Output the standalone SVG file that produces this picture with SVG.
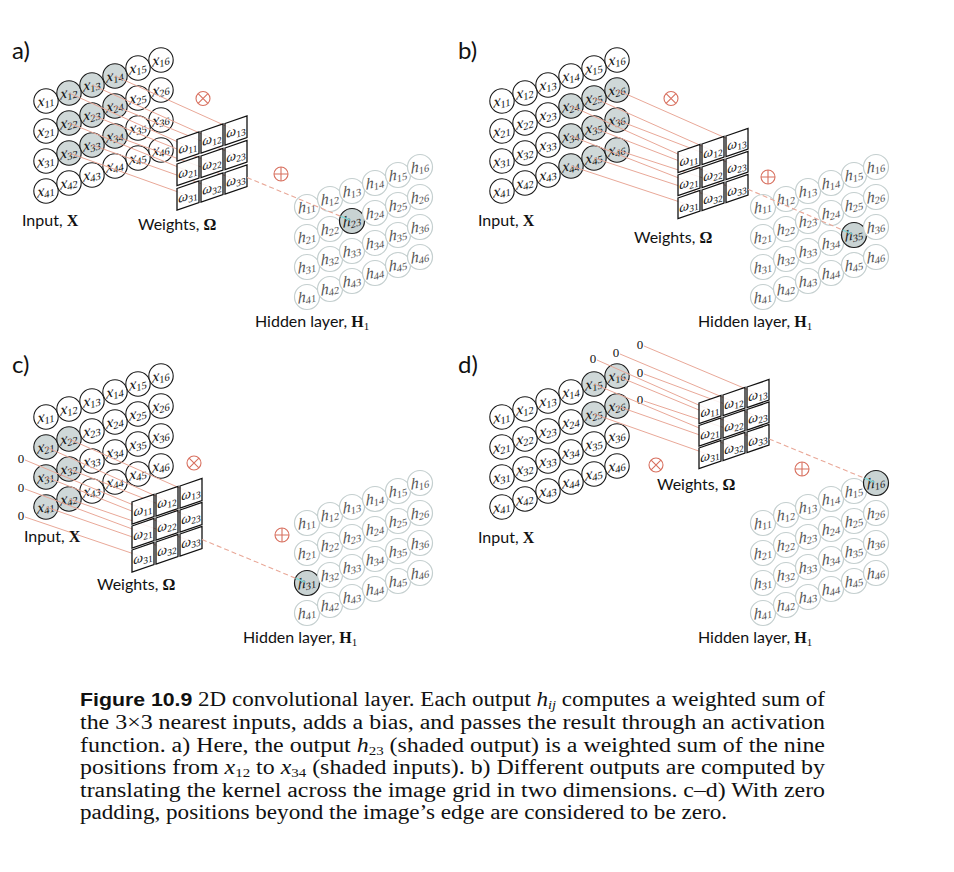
<svg xmlns="http://www.w3.org/2000/svg" width="954" height="872" viewBox="0 0 954 872">
<defs>
<style>
.in circle{fill:#fff;stroke:#1a1a1a;stroke-width:1.1}
.in.s circle{fill:#cfd8d8}
.hd circle{fill:#fff;stroke:#c4cfcf;stroke-width:1.2}
.hd text{fill:#555}
.hd.s circle{fill:#c9d3d3;stroke:#1a1a1a}
.hd.s text{fill:#222}
.m{font-family:"Liberation Serif",serif;font-style:italic;font-size:16px;text-anchor:middle;fill:#111}
.sb{font-size:10.5px;font-style:normal}
.w .m{font-size:14px}
.w .sb{font-size:9.5px}
.w path{fill:#fff;fill-opacity:.86;stroke:#111;stroke-width:1.3}
.ln{stroke:#e9a898;stroke-width:1;fill:none}
.dl{stroke:#e9a898;stroke-width:1.1;stroke-dasharray:5 3;fill:none}
.tl{stroke:#7fd6d6;stroke-width:1.3}
.op circle,.op path{fill:none;stroke:#d8705f;stroke-width:1.1}
.z{font-family:"Liberation Serif",serif;font-size:13px;text-anchor:middle;fill:#111}
.lb{font-family:Lato,"Open Sans",sans-serif;font-size:16px;fill:#111}
.bm{font-family:"Liberation Serif",serif;font-weight:bold}
.pl{font-family:Lato,"Open Sans",sans-serif;font-size:24px;fill:#111}
.cap{font-family:"Liberation Serif",serif;font-size:20px;fill:#111}
.capb{font-family:"Liberation Sans",Arial,sans-serif;font-weight:bold;font-size:18.5px}
.ci{font-style:italic}
.cs{font-size:12.5px}
</style>
</defs>
<rect width="954" height="872" fill="#fff"/>

<!-- ================= PANEL A ================= -->
<g id="panel-a">
<text class="pl" x="12" y="59">a)</text>
<g id="a-inputs">
<g id="a-x11" class="in" transform="translate(46,101)"><circle r="12.2"/><text class="m" transform="skewY(-18)" y="4">x<tspan class="sb" dy="3">11</tspan></text></g>
<g id="a-x12" class="in s" transform="translate(69,93)"><circle r="12.2"/><text class="m" transform="skewY(-18)" y="4">x<tspan class="sb" dy="3">12</tspan></text></g>
<g id="a-x13" class="in s" transform="translate(92,85)"><circle r="12.2"/><text class="m" transform="skewY(-18)" y="4">x<tspan class="sb" dy="3">13</tspan></text></g>
<g id="a-x14" class="in s" transform="translate(115,76)"><circle r="12.2"/><text class="m" transform="skewY(-18)" y="4">x<tspan class="sb" dy="3">14</tspan></text></g>
<g id="a-x15" class="in" transform="translate(138,68)"><circle r="12.2"/><text class="m" transform="skewY(-18)" y="4">x<tspan class="sb" dy="3">15</tspan></text></g>
<g id="a-x16" class="in" transform="translate(161,60)"><circle r="12.2"/><text class="m" transform="skewY(-18)" y="4">x<tspan class="sb" dy="3">16</tspan></text></g>
<g id="a-x21" class="in" transform="translate(46,131)"><circle r="12.2"/><text class="m" transform="skewY(-18)" y="4">x<tspan class="sb" dy="3">21</tspan></text></g>
<g id="a-x22" class="in s" transform="translate(69,123)"><circle r="12.2"/><text class="m" transform="skewY(-18)" y="4">x<tspan class="sb" dy="3">22</tspan></text></g>
<g id="a-x23" class="in s" transform="translate(92,115)"><circle r="12.2"/><text class="m" transform="skewY(-18)" y="4">x<tspan class="sb" dy="3">23</tspan></text></g>
<g id="a-x24" class="in s" transform="translate(115,106)"><circle r="12.2"/><text class="m" transform="skewY(-18)" y="4">x<tspan class="sb" dy="3">24</tspan></text></g>
<g id="a-x25" class="in" transform="translate(138,98)"><circle r="12.2"/><text class="m" transform="skewY(-18)" y="4">x<tspan class="sb" dy="3">25</tspan></text></g>
<g id="a-x26" class="in" transform="translate(161,90)"><circle r="12.2"/><text class="m" transform="skewY(-18)" y="4">x<tspan class="sb" dy="3">26</tspan></text></g>
<g id="a-x31" class="in" transform="translate(46,161)"><circle r="12.2"/><text class="m" transform="skewY(-18)" y="4">x<tspan class="sb" dy="3">31</tspan></text></g>
<g id="a-x32" class="in s" transform="translate(69,153)"><circle r="12.2"/><text class="m" transform="skewY(-18)" y="4">x<tspan class="sb" dy="3">32</tspan></text></g>
<g id="a-x33" class="in s" transform="translate(92,145)"><circle r="12.2"/><text class="m" transform="skewY(-18)" y="4">x<tspan class="sb" dy="3">33</tspan></text></g>
<g id="a-x34" class="in s" transform="translate(115,136)"><circle r="12.2"/><text class="m" transform="skewY(-18)" y="4">x<tspan class="sb" dy="3">34</tspan></text></g>
<g id="a-x35" class="in" transform="translate(138,128)"><circle r="12.2"/><text class="m" transform="skewY(-18)" y="4">x<tspan class="sb" dy="3">35</tspan></text></g>
<g id="a-x36" class="in" transform="translate(161,120)"><circle r="12.2"/><text class="m" transform="skewY(-18)" y="4">x<tspan class="sb" dy="3">36</tspan></text></g>
<g id="a-x41" class="in" transform="translate(46,191)"><circle r="12.2"/><text class="m" transform="skewY(-18)" y="4">x<tspan class="sb" dy="3">41</tspan></text></g>
<g id="a-x42" class="in" transform="translate(69,183)"><circle r="12.2"/><text class="m" transform="skewY(-18)" y="4">x<tspan class="sb" dy="3">42</tspan></text></g>
<g id="a-x43" class="in" transform="translate(92,175)"><circle r="12.2"/><text class="m" transform="skewY(-18)" y="4">x<tspan class="sb" dy="3">43</tspan></text></g>
<g id="a-x44" class="in" transform="translate(115,166)"><circle r="12.2"/><text class="m" transform="skewY(-18)" y="4">x<tspan class="sb" dy="3">44</tspan></text></g>
<g id="a-x45" class="in" transform="translate(138,158)"><circle r="12.2"/><text class="m" transform="skewY(-18)" y="4">x<tspan class="sb" dy="3">45</tspan></text></g>
<g id="a-x46" class="in" transform="translate(161,150)"><circle r="12.2"/><text class="m" transform="skewY(-18)" y="4">x<tspan class="sb" dy="3">46</tspan></text></g>
</g>
<g id="a-connectors" class="ln">
<path d="M69,93L188,146.5M92,85L212,138.5M115,76L236,130.5M69,123L188,171M92,115L212,163M115,106L236,155M69,153L188,195.5M92,145L212,187.5M115,136L236,179.5"/>
</g>
<g id="a-weights">
<g id="a-w11" class="w" transform="translate(177,139.5)"><path d="M0,0L22,-7.5V14L0,21.5Z"/><text class="m" transform="skewY(-18)" x="11" y="15">ω<tspan class="sb" dy="3">11</tspan></text></g>
<g id="a-w12" class="w" transform="translate(201,131.5)"><path d="M0,0L22,-7.5V14L0,21.5Z"/><text class="m" transform="skewY(-18)" x="11" y="15">ω<tspan class="sb" dy="3">12</tspan></text></g>
<g id="a-w13" class="w" transform="translate(225,123.5)"><path d="M0,0L22,-7.5V14L0,21.5Z"/><text class="m" transform="skewY(-18)" x="11" y="15">ω<tspan class="sb" dy="3">13</tspan></text></g>
<g id="a-w21" class="w" transform="translate(177,164)"><path d="M0,0L22,-7.5V14L0,21.5Z"/><text class="m" transform="skewY(-18)" x="11" y="15">ω<tspan class="sb" dy="3">21</tspan></text></g>
<g id="a-w22" class="w" transform="translate(201,156)"><path d="M0,0L22,-7.5V14L0,21.5Z"/><text class="m" transform="skewY(-18)" x="11" y="15">ω<tspan class="sb" dy="3">22</tspan></text></g>
<g id="a-w23" class="w" transform="translate(225,148)"><path d="M0,0L22,-7.5V14L0,21.5Z"/><text class="m" transform="skewY(-18)" x="11" y="15">ω<tspan class="sb" dy="3">23</tspan></text></g>
<g id="a-w31" class="w" transform="translate(177,188.5)"><path d="M0,0L22,-7.5V14L0,21.5Z"/><text class="m" transform="skewY(-18)" x="11" y="15">ω<tspan class="sb" dy="3">31</tspan></text></g>
<g id="a-w32" class="w" transform="translate(201,180.5)"><path d="M0,0L22,-7.5V14L0,21.5Z"/><text class="m" transform="skewY(-18)" x="11" y="15">ω<tspan class="sb" dy="3">32</tspan></text></g>
<g id="a-w33" class="w" transform="translate(225,172.5)"><path d="M0,0L22,-7.5V14L0,21.5Z"/><text class="m" transform="skewY(-18)" x="11" y="15">ω<tspan class="sb" dy="3">33</tspan></text></g>
</g>
<g id="a-mul" class="op" transform="translate(203,98.5)"><circle r="7"/><path d="M-4.9,-4.9L4.9,4.9M-4.9,4.9L4.9,-4.9"/></g>
<g id="a-add" class="op" transform="translate(281,174)"><circle r="7"/><path d="M-7,0H7M0,-7V7"/></g>
<g id="a-hidden">
<g id="a-h11" class="hd" transform="translate(307,207)"><circle r="12.5"/><text class="m" transform="skewY(-18)" y="4">h<tspan class="sb" dy="3">11</tspan></text></g>
<g id="a-h12" class="hd" transform="translate(330,199)"><circle r="12.5"/><text class="m" transform="skewY(-18)" y="4">h<tspan class="sb" dy="3">12</tspan></text></g>
<g id="a-h13" class="hd" transform="translate(352,191)"><circle r="12.5"/><text class="m" transform="skewY(-18)" y="4">h<tspan class="sb" dy="3">13</tspan></text></g>
<g id="a-h14" class="hd" transform="translate(375,183)"><circle r="12.5"/><text class="m" transform="skewY(-18)" y="4">h<tspan class="sb" dy="3">14</tspan></text></g>
<g id="a-h15" class="hd" transform="translate(398,175)"><circle r="12.5"/><text class="m" transform="skewY(-18)" y="4">h<tspan class="sb" dy="3">15</tspan></text></g>
<g id="a-h16" class="hd" transform="translate(420,167)"><circle r="12.5"/><text class="m" transform="skewY(-18)" y="4">h<tspan class="sb" dy="3">16</tspan></text></g>
<g id="a-h21" class="hd" transform="translate(307,237)"><circle r="12.5"/><text class="m" transform="skewY(-18)" y="4">h<tspan class="sb" dy="3">21</tspan></text></g>
<g id="a-h22" class="hd" transform="translate(330,229)"><circle r="12.5"/><text class="m" transform="skewY(-18)" y="4">h<tspan class="sb" dy="3">22</tspan></text></g>
<g id="a-h23" class="hd s" transform="translate(352,221)"><circle r="12.5"/><text class="m" transform="skewY(-18)" y="4">h<tspan class="sb" dy="3">23</tspan></text></g>
<g id="a-h24" class="hd" transform="translate(375,213)"><circle r="12.5"/><text class="m" transform="skewY(-18)" y="4">h<tspan class="sb" dy="3">24</tspan></text></g>
<g id="a-h25" class="hd" transform="translate(398,205)"><circle r="12.5"/><text class="m" transform="skewY(-18)" y="4">h<tspan class="sb" dy="3">25</tspan></text></g>
<g id="a-h26" class="hd" transform="translate(420,197)"><circle r="12.5"/><text class="m" transform="skewY(-18)" y="4">h<tspan class="sb" dy="3">26</tspan></text></g>
<g id="a-h31" class="hd" transform="translate(307,267)"><circle r="12.5"/><text class="m" transform="skewY(-18)" y="4">h<tspan class="sb" dy="3">31</tspan></text></g>
<g id="a-h32" class="hd" transform="translate(330,259)"><circle r="12.5"/><text class="m" transform="skewY(-18)" y="4">h<tspan class="sb" dy="3">32</tspan></text></g>
<g id="a-h33" class="hd" transform="translate(352,251)"><circle r="12.5"/><text class="m" transform="skewY(-18)" y="4">h<tspan class="sb" dy="3">33</tspan></text></g>
<g id="a-h34" class="hd" transform="translate(375,243)"><circle r="12.5"/><text class="m" transform="skewY(-18)" y="4">h<tspan class="sb" dy="3">34</tspan></text></g>
<g id="a-h35" class="hd" transform="translate(398,235)"><circle r="12.5"/><text class="m" transform="skewY(-18)" y="4">h<tspan class="sb" dy="3">35</tspan></text></g>
<g id="a-h36" class="hd" transform="translate(420,227)"><circle r="12.5"/><text class="m" transform="skewY(-18)" y="4">h<tspan class="sb" dy="3">36</tspan></text></g>
<g id="a-h41" class="hd" transform="translate(307,297)"><circle r="12.5"/><text class="m" transform="skewY(-18)" y="4">h<tspan class="sb" dy="3">41</tspan></text></g>
<g id="a-h42" class="hd" transform="translate(330,289)"><circle r="12.5"/><text class="m" transform="skewY(-18)" y="4">h<tspan class="sb" dy="3">42</tspan></text></g>
<g id="a-h43" class="hd" transform="translate(352,281)"><circle r="12.5"/><text class="m" transform="skewY(-18)" y="4">h<tspan class="sb" dy="3">43</tspan></text></g>
<g id="a-h44" class="hd" transform="translate(375,273)"><circle r="12.5"/><text class="m" transform="skewY(-18)" y="4">h<tspan class="sb" dy="3">44</tspan></text></g>
<g id="a-h45" class="hd" transform="translate(398,265)"><circle r="12.5"/><text class="m" transform="skewY(-18)" y="4">h<tspan class="sb" dy="3">45</tspan></text></g>
<g id="a-h46" class="hd" transform="translate(420,257)"><circle r="12.5"/><text class="m" transform="skewY(-18)" y="4">h<tspan class="sb" dy="3">46</tspan></text></g>
</g>
<g id="a-connectors-out"><path class="dl" d="M247,177.5L340.5,216.2"/><path class="tl" d="M340.5,216.2L350,220.2"/></g>
<text class="lb" x="22" y="226">Input, <tspan class="bm">X</tspan></text>
<text class="lb" x="138" y="230">Weights, <tspan class="bm">Ω</tspan></text>
<text class="lb" x="255" y="327">Hidden layer, <tspan class="bm">H</tspan><tspan font-family="Liberation Serif,serif" font-size="11" dy="3">1</tspan></text>
</g>

<!-- ================= PANEL B ================= -->
<g id="panel-b" transform="translate(456,0)">
<text class="pl" x="2" y="59">b)</text>
<g id="b-inputs">
<g id="b-x11" class="in" transform="translate(46,101)"><circle r="12.2"/><text class="m" transform="skewY(-18)" y="4">x<tspan class="sb" dy="3">11</tspan></text></g>
<g id="b-x12" class="in" transform="translate(69,93)"><circle r="12.2"/><text class="m" transform="skewY(-18)" y="4">x<tspan class="sb" dy="3">12</tspan></text></g>
<g id="b-x13" class="in" transform="translate(92,85)"><circle r="12.2"/><text class="m" transform="skewY(-18)" y="4">x<tspan class="sb" dy="3">13</tspan></text></g>
<g id="b-x14" class="in" transform="translate(115,76)"><circle r="12.2"/><text class="m" transform="skewY(-18)" y="4">x<tspan class="sb" dy="3">14</tspan></text></g>
<g id="b-x15" class="in" transform="translate(138,68)"><circle r="12.2"/><text class="m" transform="skewY(-18)" y="4">x<tspan class="sb" dy="3">15</tspan></text></g>
<g id="b-x16" class="in" transform="translate(161,60)"><circle r="12.2"/><text class="m" transform="skewY(-18)" y="4">x<tspan class="sb" dy="3">16</tspan></text></g>
<g id="b-x21" class="in" transform="translate(46,131)"><circle r="12.2"/><text class="m" transform="skewY(-18)" y="4">x<tspan class="sb" dy="3">21</tspan></text></g>
<g id="b-x22" class="in" transform="translate(69,123)"><circle r="12.2"/><text class="m" transform="skewY(-18)" y="4">x<tspan class="sb" dy="3">22</tspan></text></g>
<g id="b-x23" class="in" transform="translate(92,115)"><circle r="12.2"/><text class="m" transform="skewY(-18)" y="4">x<tspan class="sb" dy="3">23</tspan></text></g>
<g id="b-x24" class="in s" transform="translate(115,106)"><circle r="12.2"/><text class="m" transform="skewY(-18)" y="4">x<tspan class="sb" dy="3">24</tspan></text></g>
<g id="b-x25" class="in s" transform="translate(138,98)"><circle r="12.2"/><text class="m" transform="skewY(-18)" y="4">x<tspan class="sb" dy="3">25</tspan></text></g>
<g id="b-x26" class="in s" transform="translate(161,90)"><circle r="12.2"/><text class="m" transform="skewY(-18)" y="4">x<tspan class="sb" dy="3">26</tspan></text></g>
<g id="b-x31" class="in" transform="translate(46,161)"><circle r="12.2"/><text class="m" transform="skewY(-18)" y="4">x<tspan class="sb" dy="3">31</tspan></text></g>
<g id="b-x32" class="in" transform="translate(69,153)"><circle r="12.2"/><text class="m" transform="skewY(-18)" y="4">x<tspan class="sb" dy="3">32</tspan></text></g>
<g id="b-x33" class="in" transform="translate(92,145)"><circle r="12.2"/><text class="m" transform="skewY(-18)" y="4">x<tspan class="sb" dy="3">33</tspan></text></g>
<g id="b-x34" class="in s" transform="translate(115,136)"><circle r="12.2"/><text class="m" transform="skewY(-18)" y="4">x<tspan class="sb" dy="3">34</tspan></text></g>
<g id="b-x35" class="in s" transform="translate(138,128)"><circle r="12.2"/><text class="m" transform="skewY(-18)" y="4">x<tspan class="sb" dy="3">35</tspan></text></g>
<g id="b-x36" class="in s" transform="translate(161,120)"><circle r="12.2"/><text class="m" transform="skewY(-18)" y="4">x<tspan class="sb" dy="3">36</tspan></text></g>
<g id="b-x41" class="in" transform="translate(46,191)"><circle r="12.2"/><text class="m" transform="skewY(-18)" y="4">x<tspan class="sb" dy="3">41</tspan></text></g>
<g id="b-x42" class="in" transform="translate(69,183)"><circle r="12.2"/><text class="m" transform="skewY(-18)" y="4">x<tspan class="sb" dy="3">42</tspan></text></g>
<g id="b-x43" class="in" transform="translate(92,175)"><circle r="12.2"/><text class="m" transform="skewY(-18)" y="4">x<tspan class="sb" dy="3">43</tspan></text></g>
<g id="b-x44" class="in s" transform="translate(115,166)"><circle r="12.2"/><text class="m" transform="skewY(-18)" y="4">x<tspan class="sb" dy="3">44</tspan></text></g>
<g id="b-x45" class="in s" transform="translate(138,158)"><circle r="12.2"/><text class="m" transform="skewY(-18)" y="4">x<tspan class="sb" dy="3">45</tspan></text></g>
<g id="b-x46" class="in s" transform="translate(161,150)"><circle r="12.2"/><text class="m" transform="skewY(-18)" y="4">x<tspan class="sb" dy="3">46</tspan></text></g>
</g>
<g id="b-connectors" class="ln">
<path d="M115,106L233,159M138,98L257,151M161,90L281,143M115,136L233,182M138,128L257,174M161,120L281,166M115,166L233,205M138,158L257,197M161,150L281,189"/>
</g>
<g id="b-weights">
<g id="b-w11" class="w" transform="translate(222,152)"><path d="M0,0L22,-7.5V13L0,20.5Z"/><text class="m" transform="skewY(-18)" x="11" y="15">ω<tspan class="sb" dy="3">11</tspan></text></g>
<g id="b-w12" class="w" transform="translate(246,144)"><path d="M0,0L22,-7.5V13L0,20.5Z"/><text class="m" transform="skewY(-18)" x="11" y="15">ω<tspan class="sb" dy="3">12</tspan></text></g>
<g id="b-w13" class="w" transform="translate(270,136)"><path d="M0,0L22,-7.5V13L0,20.5Z"/><text class="m" transform="skewY(-18)" x="11" y="15">ω<tspan class="sb" dy="3">13</tspan></text></g>
<g id="b-w21" class="w" transform="translate(222,175)"><path d="M0,0L22,-7.5V13L0,20.5Z"/><text class="m" transform="skewY(-18)" x="11" y="15">ω<tspan class="sb" dy="3">21</tspan></text></g>
<g id="b-w22" class="w" transform="translate(246,167)"><path d="M0,0L22,-7.5V13L0,20.5Z"/><text class="m" transform="skewY(-18)" x="11" y="15">ω<tspan class="sb" dy="3">22</tspan></text></g>
<g id="b-w23" class="w" transform="translate(270,159)"><path d="M0,0L22,-7.5V13L0,20.5Z"/><text class="m" transform="skewY(-18)" x="11" y="15">ω<tspan class="sb" dy="3">23</tspan></text></g>
<g id="b-w31" class="w" transform="translate(222,198)"><path d="M0,0L22,-7.5V13L0,20.5Z"/><text class="m" transform="skewY(-18)" x="11" y="15">ω<tspan class="sb" dy="3">31</tspan></text></g>
<g id="b-w32" class="w" transform="translate(246,190)"><path d="M0,0L22,-7.5V13L0,20.5Z"/><text class="m" transform="skewY(-18)" x="11" y="15">ω<tspan class="sb" dy="3">32</tspan></text></g>
<g id="b-w33" class="w" transform="translate(270,182)"><path d="M0,0L22,-7.5V13L0,20.5Z"/><text class="m" transform="skewY(-18)" x="11" y="15">ω<tspan class="sb" dy="3">33</tspan></text></g>
</g>
<g id="b-mul" class="op" transform="translate(215,98.5)"><circle r="7"/><path d="M-4.9,-4.9L4.9,4.9M-4.9,4.9L4.9,-4.9"/></g>
<g id="b-add" class="op" transform="translate(312,177)"><circle r="7"/><path d="M-7,0H7M0,-7V7"/></g>
<g id="b-hidden">
<g id="b-h11" class="hd" transform="translate(307,207)"><circle r="12.5"/><text class="m" transform="skewY(-18)" y="4">h<tspan class="sb" dy="3">11</tspan></text></g>
<g id="b-h12" class="hd" transform="translate(330,199)"><circle r="12.5"/><text class="m" transform="skewY(-18)" y="4">h<tspan class="sb" dy="3">12</tspan></text></g>
<g id="b-h13" class="hd" transform="translate(352,191)"><circle r="12.5"/><text class="m" transform="skewY(-18)" y="4">h<tspan class="sb" dy="3">13</tspan></text></g>
<g id="b-h14" class="hd" transform="translate(375,183)"><circle r="12.5"/><text class="m" transform="skewY(-18)" y="4">h<tspan class="sb" dy="3">14</tspan></text></g>
<g id="b-h15" class="hd" transform="translate(398,175)"><circle r="12.5"/><text class="m" transform="skewY(-18)" y="4">h<tspan class="sb" dy="3">15</tspan></text></g>
<g id="b-h16" class="hd" transform="translate(420,167)"><circle r="12.5"/><text class="m" transform="skewY(-18)" y="4">h<tspan class="sb" dy="3">16</tspan></text></g>
<g id="b-h21" class="hd" transform="translate(307,237)"><circle r="12.5"/><text class="m" transform="skewY(-18)" y="4">h<tspan class="sb" dy="3">21</tspan></text></g>
<g id="b-h22" class="hd" transform="translate(330,229)"><circle r="12.5"/><text class="m" transform="skewY(-18)" y="4">h<tspan class="sb" dy="3">22</tspan></text></g>
<g id="b-h23" class="hd" transform="translate(352,221)"><circle r="12.5"/><text class="m" transform="skewY(-18)" y="4">h<tspan class="sb" dy="3">23</tspan></text></g>
<g id="b-h24" class="hd" transform="translate(375,213)"><circle r="12.5"/><text class="m" transform="skewY(-18)" y="4">h<tspan class="sb" dy="3">24</tspan></text></g>
<g id="b-h25" class="hd" transform="translate(398,205)"><circle r="12.5"/><text class="m" transform="skewY(-18)" y="4">h<tspan class="sb" dy="3">25</tspan></text></g>
<g id="b-h26" class="hd" transform="translate(420,197)"><circle r="12.5"/><text class="m" transform="skewY(-18)" y="4">h<tspan class="sb" dy="3">26</tspan></text></g>
<g id="b-h31" class="hd" transform="translate(307,267)"><circle r="12.5"/><text class="m" transform="skewY(-18)" y="4">h<tspan class="sb" dy="3">31</tspan></text></g>
<g id="b-h32" class="hd" transform="translate(330,259)"><circle r="12.5"/><text class="m" transform="skewY(-18)" y="4">h<tspan class="sb" dy="3">32</tspan></text></g>
<g id="b-h33" class="hd" transform="translate(352,251)"><circle r="12.5"/><text class="m" transform="skewY(-18)" y="4">h<tspan class="sb" dy="3">33</tspan></text></g>
<g id="b-h34" class="hd" transform="translate(375,243)"><circle r="12.5"/><text class="m" transform="skewY(-18)" y="4">h<tspan class="sb" dy="3">34</tspan></text></g>
<g id="b-h35" class="hd s" transform="translate(398,235)"><circle r="12.5"/><text class="m" transform="skewY(-18)" y="4">h<tspan class="sb" dy="3">35</tspan></text></g>
<g id="b-h36" class="hd" transform="translate(420,227)"><circle r="12.5"/><text class="m" transform="skewY(-18)" y="4">h<tspan class="sb" dy="3">36</tspan></text></g>
<g id="b-h41" class="hd" transform="translate(307,297)"><circle r="12.5"/><text class="m" transform="skewY(-18)" y="4">h<tspan class="sb" dy="3">41</tspan></text></g>
<g id="b-h42" class="hd" transform="translate(330,289)"><circle r="12.5"/><text class="m" transform="skewY(-18)" y="4">h<tspan class="sb" dy="3">42</tspan></text></g>
<g id="b-h43" class="hd" transform="translate(352,281)"><circle r="12.5"/><text class="m" transform="skewY(-18)" y="4">h<tspan class="sb" dy="3">43</tspan></text></g>
<g id="b-h44" class="hd" transform="translate(375,273)"><circle r="12.5"/><text class="m" transform="skewY(-18)" y="4">h<tspan class="sb" dy="3">44</tspan></text></g>
<g id="b-h45" class="hd" transform="translate(398,265)"><circle r="12.5"/><text class="m" transform="skewY(-18)" y="4">h<tspan class="sb" dy="3">45</tspan></text></g>
<g id="b-h46" class="hd" transform="translate(420,257)"><circle r="12.5"/><text class="m" transform="skewY(-18)" y="4">h<tspan class="sb" dy="3">46</tspan></text></g>
</g>
<g id="b-connectors-out"><path class="dl" d="M292,189.2L386.5,230"/><path class="tl" d="M386.5,230L396,234"/></g>
<text class="lb" x="22" y="226">Input, <tspan class="bm">X</tspan></text>
<text class="lb" x="178" y="243">Weights, <tspan class="bm">Ω</tspan></text>
<text class="lb" x="242" y="327">Hidden layer, <tspan class="bm">H</tspan><tspan font-family="Liberation Serif,serif" font-size="11" dy="3">1</tspan></text>
</g>

<!-- ================= PANEL C ================= -->
<g id="panel-c" transform="translate(0,316)">
<text class="pl" x="12" y="57">c)</text>
<g id="c-inputs">
<g id="c-x11" class="in" transform="translate(46,101)"><circle r="12.2"/><text class="m" transform="skewY(-18)" y="4">x<tspan class="sb" dy="3">11</tspan></text></g>
<g id="c-x12" class="in" transform="translate(69,93)"><circle r="12.2"/><text class="m" transform="skewY(-18)" y="4">x<tspan class="sb" dy="3">12</tspan></text></g>
<g id="c-x13" class="in" transform="translate(92,85)"><circle r="12.2"/><text class="m" transform="skewY(-18)" y="4">x<tspan class="sb" dy="3">13</tspan></text></g>
<g id="c-x14" class="in" transform="translate(115,76)"><circle r="12.2"/><text class="m" transform="skewY(-18)" y="4">x<tspan class="sb" dy="3">14</tspan></text></g>
<g id="c-x15" class="in" transform="translate(138,68)"><circle r="12.2"/><text class="m" transform="skewY(-18)" y="4">x<tspan class="sb" dy="3">15</tspan></text></g>
<g id="c-x16" class="in" transform="translate(161,60)"><circle r="12.2"/><text class="m" transform="skewY(-18)" y="4">x<tspan class="sb" dy="3">16</tspan></text></g>
<g id="c-x21" class="in s" transform="translate(46,131)"><circle r="12.2"/><text class="m" transform="skewY(-18)" y="4">x<tspan class="sb" dy="3">21</tspan></text></g>
<g id="c-x22" class="in s" transform="translate(69,123)"><circle r="12.2"/><text class="m" transform="skewY(-18)" y="4">x<tspan class="sb" dy="3">22</tspan></text></g>
<g id="c-x23" class="in" transform="translate(92,115)"><circle r="12.2"/><text class="m" transform="skewY(-18)" y="4">x<tspan class="sb" dy="3">23</tspan></text></g>
<g id="c-x24" class="in" transform="translate(115,106)"><circle r="12.2"/><text class="m" transform="skewY(-18)" y="4">x<tspan class="sb" dy="3">24</tspan></text></g>
<g id="c-x25" class="in" transform="translate(138,98)"><circle r="12.2"/><text class="m" transform="skewY(-18)" y="4">x<tspan class="sb" dy="3">25</tspan></text></g>
<g id="c-x26" class="in" transform="translate(161,90)"><circle r="12.2"/><text class="m" transform="skewY(-18)" y="4">x<tspan class="sb" dy="3">26</tspan></text></g>
<g id="c-x31" class="in s" transform="translate(46,161)"><circle r="12.2"/><text class="m" transform="skewY(-18)" y="4">x<tspan class="sb" dy="3">31</tspan></text></g>
<g id="c-x32" class="in s" transform="translate(69,153)"><circle r="12.2"/><text class="m" transform="skewY(-18)" y="4">x<tspan class="sb" dy="3">32</tspan></text></g>
<g id="c-x33" class="in" transform="translate(92,145)"><circle r="12.2"/><text class="m" transform="skewY(-18)" y="4">x<tspan class="sb" dy="3">33</tspan></text></g>
<g id="c-x34" class="in" transform="translate(115,136)"><circle r="12.2"/><text class="m" transform="skewY(-18)" y="4">x<tspan class="sb" dy="3">34</tspan></text></g>
<g id="c-x35" class="in" transform="translate(138,128)"><circle r="12.2"/><text class="m" transform="skewY(-18)" y="4">x<tspan class="sb" dy="3">35</tspan></text></g>
<g id="c-x36" class="in" transform="translate(161,120)"><circle r="12.2"/><text class="m" transform="skewY(-18)" y="4">x<tspan class="sb" dy="3">36</tspan></text></g>
<g id="c-x41" class="in s" transform="translate(46,191)"><circle r="12.2"/><text class="m" transform="skewY(-18)" y="4">x<tspan class="sb" dy="3">41</tspan></text></g>
<g id="c-x42" class="in s" transform="translate(69,183)"><circle r="12.2"/><text class="m" transform="skewY(-18)" y="4">x<tspan class="sb" dy="3">42</tspan></text></g>
<g id="c-x43" class="in" transform="translate(92,175)"><circle r="12.2"/><text class="m" transform="skewY(-18)" y="4">x<tspan class="sb" dy="3">43</tspan></text></g>
<g id="c-x44" class="in" transform="translate(115,166)"><circle r="12.2"/><text class="m" transform="skewY(-18)" y="4">x<tspan class="sb" dy="3">44</tspan></text></g>
<g id="c-x45" class="in" transform="translate(138,158)"><circle r="12.2"/><text class="m" transform="skewY(-18)" y="4">x<tspan class="sb" dy="3">45</tspan></text></g>
<g id="c-x46" class="in" transform="translate(161,150)"><circle r="12.2"/><text class="m" transform="skewY(-18)" y="4">x<tspan class="sb" dy="3">46</tspan></text></g>
</g>
<g id="c-zeros">
<text class="z" x="21" y="147">0</text>
<text class="z" x="21" y="176">0</text>
<text class="z" x="21" y="204">0</text>
</g>
<g id="c-connectors" class="ln">
<path d="M25,144L143,193M46,131L167,185M69,123L191,177M25,173L143,217M46,161L167,209M69,153L191,201M25,201L143,241M46,191L167,233M69,183L191,225"/>
</g>
<g id="c-weights">
<g id="c-w11" class="w" transform="translate(132,186)"><path d="M0,0L22,-7.5V14.5L0,22Z"/><text class="m" transform="skewY(-18)" x="11" y="15">ω<tspan class="sb" dy="3">11</tspan></text></g>
<g id="c-w12" class="w" transform="translate(156,178)"><path d="M0,0L22,-7.5V14.5L0,22Z"/><text class="m" transform="skewY(-18)" x="11" y="15">ω<tspan class="sb" dy="3">12</tspan></text></g>
<g id="c-w13" class="w" transform="translate(180,170)"><path d="M0,0L22,-7.5V14.5L0,22Z"/><text class="m" transform="skewY(-18)" x="11" y="15">ω<tspan class="sb" dy="3">13</tspan></text></g>
<g id="c-w21" class="w" transform="translate(132,210)"><path d="M0,0L22,-7.5V14.5L0,22Z"/><text class="m" transform="skewY(-18)" x="11" y="15">ω<tspan class="sb" dy="3">21</tspan></text></g>
<g id="c-w22" class="w" transform="translate(156,202)"><path d="M0,0L22,-7.5V14.5L0,22Z"/><text class="m" transform="skewY(-18)" x="11" y="15">ω<tspan class="sb" dy="3">22</tspan></text></g>
<g id="c-w23" class="w" transform="translate(180,194)"><path d="M0,0L22,-7.5V14.5L0,22Z"/><text class="m" transform="skewY(-18)" x="11" y="15">ω<tspan class="sb" dy="3">23</tspan></text></g>
<g id="c-w31" class="w" transform="translate(132,234)"><path d="M0,0L22,-7.5V14.5L0,22Z"/><text class="m" transform="skewY(-18)" x="11" y="15">ω<tspan class="sb" dy="3">31</tspan></text></g>
<g id="c-w32" class="w" transform="translate(156,226)"><path d="M0,0L22,-7.5V14.5L0,22Z"/><text class="m" transform="skewY(-18)" x="11" y="15">ω<tspan class="sb" dy="3">32</tspan></text></g>
<g id="c-w33" class="w" transform="translate(180,218)"><path d="M0,0L22,-7.5V14.5L0,22Z"/><text class="m" transform="skewY(-18)" x="11" y="15">ω<tspan class="sb" dy="3">33</tspan></text></g>
</g>
<g id="c-mul" class="op" transform="translate(194,147)"><circle r="7"/><path d="M-4.9,-4.9L4.9,4.9M-4.9,4.9L4.9,-4.9"/></g>
<g id="c-add" class="op" transform="translate(282,219)"><circle r="7"/><path d="M-7,0H7M0,-7V7"/></g>
<g id="c-hidden">
<g id="c-h11" class="hd" transform="translate(307,207)"><circle r="12.5"/><text class="m" transform="skewY(-18)" y="4">h<tspan class="sb" dy="3">11</tspan></text></g>
<g id="c-h12" class="hd" transform="translate(330,199)"><circle r="12.5"/><text class="m" transform="skewY(-18)" y="4">h<tspan class="sb" dy="3">12</tspan></text></g>
<g id="c-h13" class="hd" transform="translate(352,191)"><circle r="12.5"/><text class="m" transform="skewY(-18)" y="4">h<tspan class="sb" dy="3">13</tspan></text></g>
<g id="c-h14" class="hd" transform="translate(375,183)"><circle r="12.5"/><text class="m" transform="skewY(-18)" y="4">h<tspan class="sb" dy="3">14</tspan></text></g>
<g id="c-h15" class="hd" transform="translate(398,175)"><circle r="12.5"/><text class="m" transform="skewY(-18)" y="4">h<tspan class="sb" dy="3">15</tspan></text></g>
<g id="c-h16" class="hd" transform="translate(420,167)"><circle r="12.5"/><text class="m" transform="skewY(-18)" y="4">h<tspan class="sb" dy="3">16</tspan></text></g>
<g id="c-h21" class="hd" transform="translate(307,237)"><circle r="12.5"/><text class="m" transform="skewY(-18)" y="4">h<tspan class="sb" dy="3">21</tspan></text></g>
<g id="c-h22" class="hd" transform="translate(330,229)"><circle r="12.5"/><text class="m" transform="skewY(-18)" y="4">h<tspan class="sb" dy="3">22</tspan></text></g>
<g id="c-h23" class="hd" transform="translate(352,221)"><circle r="12.5"/><text class="m" transform="skewY(-18)" y="4">h<tspan class="sb" dy="3">23</tspan></text></g>
<g id="c-h24" class="hd" transform="translate(375,213)"><circle r="12.5"/><text class="m" transform="skewY(-18)" y="4">h<tspan class="sb" dy="3">24</tspan></text></g>
<g id="c-h25" class="hd" transform="translate(398,205)"><circle r="12.5"/><text class="m" transform="skewY(-18)" y="4">h<tspan class="sb" dy="3">25</tspan></text></g>
<g id="c-h26" class="hd" transform="translate(420,197)"><circle r="12.5"/><text class="m" transform="skewY(-18)" y="4">h<tspan class="sb" dy="3">26</tspan></text></g>
<g id="c-h31" class="hd s" transform="translate(307,267)"><circle r="12.5"/><text class="m" transform="skewY(-18)" y="4">h<tspan class="sb" dy="3">31</tspan></text></g>
<g id="c-h32" class="hd" transform="translate(330,259)"><circle r="12.5"/><text class="m" transform="skewY(-18)" y="4">h<tspan class="sb" dy="3">32</tspan></text></g>
<g id="c-h33" class="hd" transform="translate(352,251)"><circle r="12.5"/><text class="m" transform="skewY(-18)" y="4">h<tspan class="sb" dy="3">33</tspan></text></g>
<g id="c-h34" class="hd" transform="translate(375,243)"><circle r="12.5"/><text class="m" transform="skewY(-18)" y="4">h<tspan class="sb" dy="3">34</tspan></text></g>
<g id="c-h35" class="hd" transform="translate(398,235)"><circle r="12.5"/><text class="m" transform="skewY(-18)" y="4">h<tspan class="sb" dy="3">35</tspan></text></g>
<g id="c-h36" class="hd" transform="translate(420,227)"><circle r="12.5"/><text class="m" transform="skewY(-18)" y="4">h<tspan class="sb" dy="3">36</tspan></text></g>
<g id="c-h41" class="hd" transform="translate(307,297)"><circle r="12.5"/><text class="m" transform="skewY(-18)" y="4">h<tspan class="sb" dy="3">41</tspan></text></g>
<g id="c-h42" class="hd" transform="translate(330,289)"><circle r="12.5"/><text class="m" transform="skewY(-18)" y="4">h<tspan class="sb" dy="3">42</tspan></text></g>
<g id="c-h43" class="hd" transform="translate(352,281)"><circle r="12.5"/><text class="m" transform="skewY(-18)" y="4">h<tspan class="sb" dy="3">43</tspan></text></g>
<g id="c-h44" class="hd" transform="translate(375,273)"><circle r="12.5"/><text class="m" transform="skewY(-18)" y="4">h<tspan class="sb" dy="3">44</tspan></text></g>
<g id="c-h45" class="hd" transform="translate(398,265)"><circle r="12.5"/><text class="m" transform="skewY(-18)" y="4">h<tspan class="sb" dy="3">45</tspan></text></g>
<g id="c-h46" class="hd" transform="translate(420,257)"><circle r="12.5"/><text class="m" transform="skewY(-18)" y="4">h<tspan class="sb" dy="3">46</tspan></text></g>
</g>
<g id="c-connectors-out"><path class="dl" d="M202,223.5L295.5,262.2"/><path class="tl" d="M295.5,262.2L305,266.2"/></g>
<text class="lb" x="24" y="226">Input, <tspan class="bm">X</tspan></text>
<text class="lb" x="97" y="274">Weights, <tspan class="bm">Ω</tspan></text>
<text class="lb" x="243" y="327">Hidden layer, <tspan class="bm">H</tspan><tspan font-family="Liberation Serif,serif" font-size="11" dy="3">1</tspan></text>
</g>

<!-- ================= PANEL D ================= -->
<g id="panel-d" transform="translate(456,316)">
<text class="pl" x="2" y="57">d)</text>
<g id="d-inputs">
<g id="d-x11" class="in" transform="translate(46,101)"><circle r="12.2"/><text class="m" transform="skewY(-18)" y="4">x<tspan class="sb" dy="3">11</tspan></text></g>
<g id="d-x12" class="in" transform="translate(69,93)"><circle r="12.2"/><text class="m" transform="skewY(-18)" y="4">x<tspan class="sb" dy="3">12</tspan></text></g>
<g id="d-x13" class="in" transform="translate(92,85)"><circle r="12.2"/><text class="m" transform="skewY(-18)" y="4">x<tspan class="sb" dy="3">13</tspan></text></g>
<g id="d-x14" class="in" transform="translate(115,76)"><circle r="12.2"/><text class="m" transform="skewY(-18)" y="4">x<tspan class="sb" dy="3">14</tspan></text></g>
<g id="d-x15" class="in s" transform="translate(138,68)"><circle r="12.2"/><text class="m" transform="skewY(-18)" y="4">x<tspan class="sb" dy="3">15</tspan></text></g>
<g id="d-x16" class="in s" transform="translate(161,60)"><circle r="12.2"/><text class="m" transform="skewY(-18)" y="4">x<tspan class="sb" dy="3">16</tspan></text></g>
<g id="d-x21" class="in" transform="translate(46,131)"><circle r="12.2"/><text class="m" transform="skewY(-18)" y="4">x<tspan class="sb" dy="3">21</tspan></text></g>
<g id="d-x22" class="in" transform="translate(69,123)"><circle r="12.2"/><text class="m" transform="skewY(-18)" y="4">x<tspan class="sb" dy="3">22</tspan></text></g>
<g id="d-x23" class="in" transform="translate(92,115)"><circle r="12.2"/><text class="m" transform="skewY(-18)" y="4">x<tspan class="sb" dy="3">23</tspan></text></g>
<g id="d-x24" class="in" transform="translate(115,106)"><circle r="12.2"/><text class="m" transform="skewY(-18)" y="4">x<tspan class="sb" dy="3">24</tspan></text></g>
<g id="d-x25" class="in s" transform="translate(138,98)"><circle r="12.2"/><text class="m" transform="skewY(-18)" y="4">x<tspan class="sb" dy="3">25</tspan></text></g>
<g id="d-x26" class="in s" transform="translate(161,90)"><circle r="12.2"/><text class="m" transform="skewY(-18)" y="4">x<tspan class="sb" dy="3">26</tspan></text></g>
<g id="d-x31" class="in" transform="translate(46,161)"><circle r="12.2"/><text class="m" transform="skewY(-18)" y="4">x<tspan class="sb" dy="3">31</tspan></text></g>
<g id="d-x32" class="in" transform="translate(69,153)"><circle r="12.2"/><text class="m" transform="skewY(-18)" y="4">x<tspan class="sb" dy="3">32</tspan></text></g>
<g id="d-x33" class="in" transform="translate(92,145)"><circle r="12.2"/><text class="m" transform="skewY(-18)" y="4">x<tspan class="sb" dy="3">33</tspan></text></g>
<g id="d-x34" class="in" transform="translate(115,136)"><circle r="12.2"/><text class="m" transform="skewY(-18)" y="4">x<tspan class="sb" dy="3">34</tspan></text></g>
<g id="d-x35" class="in" transform="translate(138,128)"><circle r="12.2"/><text class="m" transform="skewY(-18)" y="4">x<tspan class="sb" dy="3">35</tspan></text></g>
<g id="d-x36" class="in" transform="translate(161,120)"><circle r="12.2"/><text class="m" transform="skewY(-18)" y="4">x<tspan class="sb" dy="3">36</tspan></text></g>
<g id="d-x41" class="in" transform="translate(46,191)"><circle r="12.2"/><text class="m" transform="skewY(-18)" y="4">x<tspan class="sb" dy="3">41</tspan></text></g>
<g id="d-x42" class="in" transform="translate(69,183)"><circle r="12.2"/><text class="m" transform="skewY(-18)" y="4">x<tspan class="sb" dy="3">42</tspan></text></g>
<g id="d-x43" class="in" transform="translate(92,175)"><circle r="12.2"/><text class="m" transform="skewY(-18)" y="4">x<tspan class="sb" dy="3">43</tspan></text></g>
<g id="d-x44" class="in" transform="translate(115,166)"><circle r="12.2"/><text class="m" transform="skewY(-18)" y="4">x<tspan class="sb" dy="3">44</tspan></text></g>
<g id="d-x45" class="in" transform="translate(138,158)"><circle r="12.2"/><text class="m" transform="skewY(-18)" y="4">x<tspan class="sb" dy="3">45</tspan></text></g>
<g id="d-x46" class="in" transform="translate(161,150)"><circle r="12.2"/><text class="m" transform="skewY(-18)" y="4">x<tspan class="sb" dy="3">46</tspan></text></g>
</g>
<g id="d-zeros">
<text class="z" x="137" y="47">0</text>
<text class="z" x="160" y="41">0</text>
<text class="z" x="184" y="33">0</text>
<text class="z" x="184" y="61">0</text>
<text class="z" x="184" y="88">0</text>
</g>
<g id="d-connectors" class="ln">
<path d="M141,44L254,94M164,38L278,86M188,30L302,78M138,68L254,116.5M161,60L278,108.5M188,58L302,100.5M138,98L254,139M161,90L278,131M188,85L302,123"/>
</g>
<g id="d-weights">
<g id="d-w11" class="w" transform="translate(243,87)"><path d="M0,0L22,-7.5V13L0,20.5Z"/><text class="m" transform="skewY(-18)" x="11" y="15">ω<tspan class="sb" dy="3">11</tspan></text></g>
<g id="d-w12" class="w" transform="translate(267,79)"><path d="M0,0L22,-7.5V13L0,20.5Z"/><text class="m" transform="skewY(-18)" x="11" y="15">ω<tspan class="sb" dy="3">12</tspan></text></g>
<g id="d-w13" class="w" transform="translate(291,71)"><path d="M0,0L22,-7.5V13L0,20.5Z"/><text class="m" transform="skewY(-18)" x="11" y="15">ω<tspan class="sb" dy="3">13</tspan></text></g>
<g id="d-w21" class="w" transform="translate(243,109.5)"><path d="M0,0L22,-7.5V13L0,20.5Z"/><text class="m" transform="skewY(-18)" x="11" y="15">ω<tspan class="sb" dy="3">21</tspan></text></g>
<g id="d-w22" class="w" transform="translate(267,101.5)"><path d="M0,0L22,-7.5V13L0,20.5Z"/><text class="m" transform="skewY(-18)" x="11" y="15">ω<tspan class="sb" dy="3">22</tspan></text></g>
<g id="d-w23" class="w" transform="translate(291,93.5)"><path d="M0,0L22,-7.5V13L0,20.5Z"/><text class="m" transform="skewY(-18)" x="11" y="15">ω<tspan class="sb" dy="3">23</tspan></text></g>
<g id="d-w31" class="w" transform="translate(243,132)"><path d="M0,0L22,-7.5V13L0,20.5Z"/><text class="m" transform="skewY(-18)" x="11" y="15">ω<tspan class="sb" dy="3">31</tspan></text></g>
<g id="d-w32" class="w" transform="translate(267,124)"><path d="M0,0L22,-7.5V13L0,20.5Z"/><text class="m" transform="skewY(-18)" x="11" y="15">ω<tspan class="sb" dy="3">32</tspan></text></g>
<g id="d-w33" class="w" transform="translate(291,116)"><path d="M0,0L22,-7.5V13L0,20.5Z"/><text class="m" transform="skewY(-18)" x="11" y="15">ω<tspan class="sb" dy="3">33</tspan></text></g>
</g>
<g id="d-mul" class="op" transform="translate(200,149)"><circle r="7"/><path d="M-4.9,-4.9L4.9,4.9M-4.9,4.9L4.9,-4.9"/></g>
<g id="d-add" class="op" transform="translate(346,153)"><circle r="7"/><path d="M-7,0H7M0,-7V7"/></g>
<g id="d-hidden">
<g id="d-h11" class="hd" transform="translate(307,207)"><circle r="12.5"/><text class="m" transform="skewY(-18)" y="4">h<tspan class="sb" dy="3">11</tspan></text></g>
<g id="d-h12" class="hd" transform="translate(330,199)"><circle r="12.5"/><text class="m" transform="skewY(-18)" y="4">h<tspan class="sb" dy="3">12</tspan></text></g>
<g id="d-h13" class="hd" transform="translate(352,191)"><circle r="12.5"/><text class="m" transform="skewY(-18)" y="4">h<tspan class="sb" dy="3">13</tspan></text></g>
<g id="d-h14" class="hd" transform="translate(375,183)"><circle r="12.5"/><text class="m" transform="skewY(-18)" y="4">h<tspan class="sb" dy="3">14</tspan></text></g>
<g id="d-h15" class="hd" transform="translate(398,175)"><circle r="12.5"/><text class="m" transform="skewY(-18)" y="4">h<tspan class="sb" dy="3">15</tspan></text></g>
<g id="d-h16" class="hd s" transform="translate(420,167)"><circle r="12.5"/><text class="m" transform="skewY(-18)" y="4">h<tspan class="sb" dy="3">16</tspan></text></g>
<g id="d-h21" class="hd" transform="translate(307,237)"><circle r="12.5"/><text class="m" transform="skewY(-18)" y="4">h<tspan class="sb" dy="3">21</tspan></text></g>
<g id="d-h22" class="hd" transform="translate(330,229)"><circle r="12.5"/><text class="m" transform="skewY(-18)" y="4">h<tspan class="sb" dy="3">22</tspan></text></g>
<g id="d-h23" class="hd" transform="translate(352,221)"><circle r="12.5"/><text class="m" transform="skewY(-18)" y="4">h<tspan class="sb" dy="3">23</tspan></text></g>
<g id="d-h24" class="hd" transform="translate(375,213)"><circle r="12.5"/><text class="m" transform="skewY(-18)" y="4">h<tspan class="sb" dy="3">24</tspan></text></g>
<g id="d-h25" class="hd" transform="translate(398,205)"><circle r="12.5"/><text class="m" transform="skewY(-18)" y="4">h<tspan class="sb" dy="3">25</tspan></text></g>
<g id="d-h26" class="hd" transform="translate(420,197)"><circle r="12.5"/><text class="m" transform="skewY(-18)" y="4">h<tspan class="sb" dy="3">26</tspan></text></g>
<g id="d-h31" class="hd" transform="translate(307,267)"><circle r="12.5"/><text class="m" transform="skewY(-18)" y="4">h<tspan class="sb" dy="3">31</tspan></text></g>
<g id="d-h32" class="hd" transform="translate(330,259)"><circle r="12.5"/><text class="m" transform="skewY(-18)" y="4">h<tspan class="sb" dy="3">32</tspan></text></g>
<g id="d-h33" class="hd" transform="translate(352,251)"><circle r="12.5"/><text class="m" transform="skewY(-18)" y="4">h<tspan class="sb" dy="3">33</tspan></text></g>
<g id="d-h34" class="hd" transform="translate(375,243)"><circle r="12.5"/><text class="m" transform="skewY(-18)" y="4">h<tspan class="sb" dy="3">34</tspan></text></g>
<g id="d-h35" class="hd" transform="translate(398,235)"><circle r="12.5"/><text class="m" transform="skewY(-18)" y="4">h<tspan class="sb" dy="3">35</tspan></text></g>
<g id="d-h36" class="hd" transform="translate(420,227)"><circle r="12.5"/><text class="m" transform="skewY(-18)" y="4">h<tspan class="sb" dy="3">36</tspan></text></g>
<g id="d-h41" class="hd" transform="translate(307,297)"><circle r="12.5"/><text class="m" transform="skewY(-18)" y="4">h<tspan class="sb" dy="3">41</tspan></text></g>
<g id="d-h42" class="hd" transform="translate(330,289)"><circle r="12.5"/><text class="m" transform="skewY(-18)" y="4">h<tspan class="sb" dy="3">42</tspan></text></g>
<g id="d-h43" class="hd" transform="translate(352,281)"><circle r="12.5"/><text class="m" transform="skewY(-18)" y="4">h<tspan class="sb" dy="3">43</tspan></text></g>
<g id="d-h44" class="hd" transform="translate(375,273)"><circle r="12.5"/><text class="m" transform="skewY(-18)" y="4">h<tspan class="sb" dy="3">44</tspan></text></g>
<g id="d-h45" class="hd" transform="translate(398,265)"><circle r="12.5"/><text class="m" transform="skewY(-18)" y="4">h<tspan class="sb" dy="3">45</tspan></text></g>
<g id="d-h46" class="hd" transform="translate(420,257)"><circle r="12.5"/><text class="m" transform="skewY(-18)" y="4">h<tspan class="sb" dy="3">46</tspan></text></g>
</g>
<g id="d-connectors-out"><path class="dl" d="M313,122.9L408.5,162.2"/><path class="tl" d="M408.5,162.2L418,166.2"/></g>
<text class="lb" x="22" y="227">Input, <tspan class="bm">X</tspan></text>
<text class="lb" x="201" y="174">Weights, <tspan class="bm">Ω</tspan></text>
<text class="lb" x="242" y="327">Hidden layer, <tspan class="bm">H</tspan><tspan font-family="Liberation Serif,serif" font-size="11" dy="3">1</tspan></text>
</g>

<!-- ================= CAPTION ================= -->
<g id="caption" class="cap">
<text x="80" y="706" textLength="745" lengthAdjust="spacingAndGlyphs"><tspan class="capb">Figure 10.9</tspan> 2D convolutional layer. Each output <tspan class="ci">h</tspan><tspan class="ci cs" dy="3">ij</tspan><tspan dy="-3"> computes a weighted sum of</tspan></text>
<text x="80" y="729" textLength="745" lengthAdjust="spacingAndGlyphs">the 3×3 nearest inputs, adds a bias, and passes the result through an activation</text>
<text x="80" y="752" textLength="745" lengthAdjust="spacingAndGlyphs">function. a) Here, the output <tspan class="ci">h</tspan><tspan class="cs" dy="3">23</tspan><tspan dy="-3"> (shaded output) is a weighted sum of the nine</tspan></text>
<text x="80" y="774" textLength="745" lengthAdjust="spacingAndGlyphs">positions from <tspan class="ci">x</tspan><tspan class="cs" dy="3">12</tspan><tspan dy="-3"> to </tspan><tspan class="ci">x</tspan><tspan class="cs" dy="3">34</tspan><tspan dy="-3"> (shaded inputs). b) Different outputs are computed by</tspan></text>
<text x="80" y="797" textLength="745" lengthAdjust="spacingAndGlyphs">translating the kernel across the image grid in two dimensions. c–d) With zero</text>
<text x="80" y="819" textLength="647" lengthAdjust="spacingAndGlyphs">padding, positions beyond the image’s edge are considered to be zero.</text>
</g>
</svg>
